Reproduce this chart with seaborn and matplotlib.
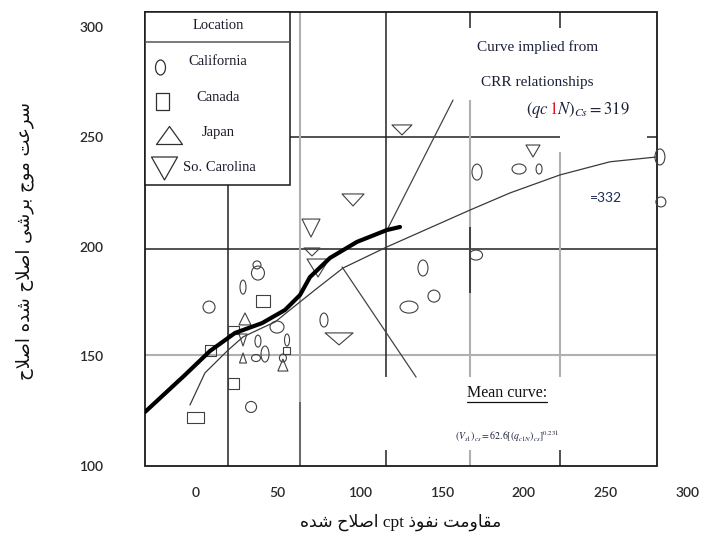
import numpy as np
import pandas as pd
import matplotlib
matplotlib.use("Agg")
import matplotlib.pyplot as plt
import seaborn as sns
from matplotlib.path import Path
from matplotlib.transforms import Affine2D
from matplotlib.patches import Rectangle
from matplotlib.offsetbox import TextArea, HPacker, AnnotationBbox

# ---------------- data ----------------
locations = ["California", "Canada", "Japan", "So. Carolina"]

cal_x = [8.3, 37.5, 38.1, 29.0, 49.7, 38.1, 55.8, 42.4, 36.9, 53.3, 33.9,
         78.3, 138.6, 145.3, 130.1, 171.5, 197.1, 209.3, 282.9, 283.5, 170.9]
cal_y = [172.4, 191.6, 187.9, 181.5, 163.3, 156.9, 157.4, 151.0, 149.2, 149.2, 126.9,
         166.5, 190.2, 177.4, 172.4, 233.9, 235.3, 235.3, 240.8, 220.3, 196.1]
can_x = [-0.2, 8.9, 23.5, 22.9, 41.2, 55.2]
can_y = [121.9, 152.4, 137.4, 162.0, 175.2, 152.8]
jap_x = [30.2, 29.0, 53.3]
jap_y = [167.0, 149.2, 146.0]
sc_x = [125.8, 96.0, 70.4, 71.0, 74.7, 87.5, 205.6, 29.0]
sc_y = [253.1, 221.2, 208.4, 197.5, 190.2, 157.9, 243.5, 157.4]

# curve implied from CRR relationships (thick)
crr_x = [-30.7, -6.3, 8.9, 24.1, 40.6, 54.6, 63.7, 69.8, 82.0, 98.4, 116.6, 124.6]
crr_y = [124.6, 141.5, 152.4, 160.6, 165.1, 171.1, 177.9, 186.1, 194.8, 202.1, 207.5, 208.9]
# mean curve (thin)
mean_x = [-3.3, 5.8, 13.8, 19.9, 29.0, 40.6, 48.5, 57.6, 72.8, 89.9, 116.6,
          167.2, 191.6, 222.0, 252.5, 281.1]
mean_y = [127.8, 142.4, 148.3, 152.8, 158.8, 162.9, 165.6, 171.1, 180.2, 190.2, 199.8,
          216.6, 224.4, 232.6, 238.6, 240.8]
# straight reference lines
ref1_x = [117.3, 156.9]
ref1_y = [208.4, 266.7]
ref2_x = [89.3, 134.4]
ref2_y = [190.7, 140.5]

x_ticks = [0, 50, 100, 150, 200, 250, 300]
y_ticks = [100, 150, 200, 250, 300]

# ---------------- marker styles (pixel width/height of each glyph) ----------------
cal_w = [12, 8, 13, 6, 14, 6, 5, 8, 9, 7, 11, 8, 10, 12, 18, 10, 14, 6, 10, 10, 13]
cal_h = [12, 8, 14, 14, 12, 12, 12, 16, 7, 8, 11, 14, 16, 12, 12, 16, 10, 10, 16, 10, 10]
can_w = [17, 11, 11, 11, 14, 7]
can_h = [11, 11, 11, 8, 12, 7]
jap_w = [12, 7, 10]
jap_h = [12, 10, 12]
sc_w = [20, 22, 18, 16, 22, 28, 14, 8]
sc_h = [10, 12, 18, 8, 18, 12, 12, 12]

# ---------------- Persian text shaping ----------------
FORMS = {
    'ا': ('\uFE8D', '\uFE8E', None, None),
    'ب': ('\uFE8F', '\uFE90', '\uFE91', '\uFE92'),
    'ت': ('\uFE95', '\uFE96', '\uFE97', '\uFE98'),
    'ج': ('\uFE9D', '\uFE9E', '\uFE9F', '\uFEA0'),
    'ح': ('\uFEA1', '\uFEA2', '\uFEA3', '\uFEA4'),
    'د': ('\uFEA9', '\uFEAA', None, None),
    'ذ': ('\uFEAB', '\uFEAC', None, None),
    'ر': ('\uFEAD', '\uFEAE', None, None),
    'س': ('\uFEB1', '\uFEB2', '\uFEB3', '\uFEB4'),
    'ش': ('\uFEB5', '\uFEB6', '\uFEB7', '\uFEB8'),
    'ص': ('\uFEB9', '\uFEBA', '\uFEBB', '\uFEBC'),
    'ع': ('\uFEC9', '\uFECA', '\uFECB', '\uFECC'),
    'ف': ('\uFED1', '\uFED2', '\uFED3', '\uFED4'),
    'ق': ('\uFED5', '\uFED6', '\uFED7', '\uFED8'),
    'ل': ('\uFEDD', '\uFEDE', '\uFEDF', '\uFEE0'),
    'م': ('\uFEE1', '\uFEE2', '\uFEE3', '\uFEE4'),
    'ن': ('\uFEE5', '\uFEE6', '\uFEE7', '\uFEE8'),
    'ه': ('\uFEE9', '\uFEEA', '\uFEEB', '\uFEEC'),
    'و': ('\uFEED', '\uFEEE', None, None),
    'ی': ('\uFEEF', '\uFEF0', '\uFEF3', '\uFEF4'),
}


def shape_word(w):
    out, i, n, prev = [], 0, len(w), False
    while i < n:
        c = w[i]
        if c == 'ل' and i + 1 < n and w[i + 1] == 'ا':
            out.append('\uFEFC' if prev else '\uFEFB')
            prev = False
            i += 2
            continue
        f = FORMS.get(c)
        if f is None:
            out.append(c)
            prev = False
            i += 1
            continue
        jn = f[2] is not None and i + 1 < n and w[i + 1] in FORMS
        if prev and jn:
            g = f[3]
        elif prev:
            g = f[1]
        elif jn:
            g = f[2]
        else:
            g = f[0]
        out.append(g)
        prev = jn
        i += 1
    return ''.join(reversed(out))


def rtl(text):
    words = text.split(' ')
    vis = [shape_word(w) if any(ch in FORMS for ch in w) else w for w in words]
    return ' '.join(reversed(vis))


x_label = "مقاومت نفوذ cpt اصلاح شده"
y_label = "سرعت موج برشی اصلاح شده اصلاح"

# ---------------- marker paths ----------------
def glyph(kind, w, h):
    if kind == "ellipse":
        return Path.unit_circle().transformed(Affine2D().scale(w / 2, h / 2))
    if kind == "rect":
        v = [(-w / 2, -h / 2), (w / 2, -h / 2), (w / 2, h / 2), (-w / 2, h / 2), (0, 0)]
        return Path(v, [1, 2, 2, 2, 79])
    if kind == "up":
        v = [(0, h / 2), (-w / 2, -h / 2), (w / 2, -h / 2), (0, 0)]
        return Path(v, [1, 2, 2, 79])
    v = [(0, -h / 2), (-w / 2, h / 2), (w / 2, h / 2), (0, 0)]
    return Path(v, [1, 2, 2, 79])


kinds = {"California": "ellipse", "Canada": "rect", "Japan": "up", "So. Carolina": "down"}
rows = []
for loc, xs, ys, ws, hs in [("California", cal_x, cal_y, cal_w, cal_h),
                            ("Canada", can_x, can_y, can_w, can_h),
                            ("Japan", jap_x, jap_y, jap_w, jap_h),
                            ("So. Carolina", sc_x, sc_y, sc_w, sc_h)]:
    for x, y, w, h in zip(xs, ys, ws, hs):
        rows.append(dict(Location=loc, cpt=x, vs=y, w=w, h=h))
df = pd.DataFrame(rows)
df["pid"] = [f"p{i:02d}" for i in range(len(df))]
marker_map = {r.pid: glyph(kinds[r.Location], r.w, r.h) for r in df.itertuples()}
size_map = {r.pid: (max(r.w, r.h) * 0.72) ** 2 for r in df.itertuples()}

# ---------------- figure ----------------
sns.set_style("white")
plt.rcParams["font.family"] = ["Liberation Serif", "DejaVu Sans"]
plt.rcParams["mathtext.fontset"] = "stix"

W, H = 710, 534
fig = plt.figure(figsize=(W / 100, H / 100), dpi=100)
ax = fig.add_axes([145 / W, 68 / H, 565 / W, 454 / H])
XPX0, XSC = 195.4, 1.642
YSC = 2.195
ax.set_xlim((145 - XPX0) / XSC, (710 - XPX0) / XSC)
ax.set_ylim(100, 100 + 454 / YSC)


def P(px, py):
    return ((px - XPX0) / XSC, 100 + (466 - py) / YSC)


for s in ax.spines.values():
    s.set_visible(False)
ax.set_xticks(x_ticks)
ax.set_yticks(y_ticks)
ax.set_xticklabels([str(t) for t in x_ticks], family="Lato", fontsize=10,
                   fontweight="semibold", color="#2a2a2a")
ax.set_yticklabels([str(t) for t in y_ticks], family="Lato", fontsize=10,
                   fontweight="semibold", color="#2a2a2a")
ax.tick_params(axis="x", length=0, pad=15)
ax.tick_params(axis="y", length=0, pad=30)
ax.grid(False)

# frame
fx0, fy0 = P(145, 466)
fx1, fy1 = P(657, 12)
ax.add_patch(Rectangle((fx0, fy0), fx1 - fx0, fy1 - fy0, fill=False, ec="#1a1a1a",
                       lw=1.3, clip_on=False, zorder=2))

# internal grid segments (pixel layout of the original figure)
BLK, GRY = "#222222", "#b0b0b0"
segs = [
    ((290, 137), (560, 137), BLK, 1.1), ((647, 137), (657, 137), BLK, 1.1),
    ((145, 249), (657, 249), BLK, 1.1),
    ((145, 355), (657, 355), GRY, 1.5),
    ((228, 185), (228, 466), BLK, 1.1),
    ((300, 12), (300, 466), GRY, 1.5), ((300, 402), (300, 466), "#555555", 1.1),
    ((386, 12), (386, 377), BLK, 1.1), ((386, 450), (386, 466), BLK, 1.1),
    ((470, 12), (470, 28), BLK, 1.1), ((470, 100), (470, 377), GRY, 1.5),
    ((470, 227), (470, 293), BLK, 1.1), ((470, 450), (470, 466), GRY, 1.5),
    ((560, 12), (560, 28), BLK, 1.1), ((560, 152), (560, 377), GRY, 1.5),
    ((560, 450), (560, 466), BLK, 1.1),
]
for a, b, c, lw in segs:
    (x0, y0), (x1, y1) = P(*a), P(*b)
    ax.plot([x0, x1], [y0, y1], color=c, lw=lw, zorder=1, solid_capstyle="butt")

# reference straight lines
sns.lineplot(x=ref1_x, y=ref1_y, color="#444444", lw=0.9, sort=False, estimator=None, ax=ax, zorder=3)
sns.lineplot(x=ref2_x, y=ref2_y, color="#444444", lw=0.9, sort=False, estimator=None, ax=ax, zorder=3)
# mean curve
sns.lineplot(x=mean_x, y=mean_y, color="#3a3a3a", lw=0.9, sort=False, estimator=None, ax=ax, zorder=3)
# CRR curve
sns.lineplot(x=crr_x, y=crr_y, color="black", lw=3.0, sort=False, estimator=None, ax=ax,
             zorder=5, solid_capstyle="round", solid_joinstyle="round")

# data points
sns.scatterplot(data=df, x="cpt", y="vs", style="pid", markers=marker_map,
                size="pid", sizes=size_map, facecolor="none", edgecolor="#404040",
                linewidth=0.8, legend=False, ax=ax, zorder=4, clip_on=False)
ax.set_xlabel("")
ax.set_ylabel("")

# ---------------- legend box ----------------
lx0, ly0 = P(145, 185)
lx1, ly1 = P(290, 12)
ax.add_patch(Rectangle((lx0, ly0), lx1 - lx0, ly1 - ly0, facecolor="white", ec="#1a1a1a",
                       lw=1.1, zorder=6, clip_on=False))
sx0, sy = P(145, 42)
sx1, _ = P(290, 42)
ax.plot([sx0, sx1], [sy, sy], color="#555555", lw=1.1, zorder=7)
ax.text(*P(218, 26), "Location", ha="center", va="center", fontsize=10.5, zorder=7, color="#1a1a2a")
leg_items = [("California", (160, 67), (218, 62), "ellipse", 10, 15),
             ("Canada", (162, 101), (218, 98), "rect", 13, 17),
             ("Japan", (169, 135), (218, 133), "up", 26, 18),
             ("So. Carolina", (164, 168), (219, 168), "down", 26, 23)]
for name, mp, tp, kind, w, h in leg_items:
    mx, my = P(*mp)
    ax.scatter([mx], [my], marker=glyph(kind, w, h), s=(max(w, h) * 0.72) ** 2,
               facecolor="white", edgecolor="#303030", linewidth=0.9, zorder=8)
    ax.text(*P(*tp), name, ha="center", va="center", fontsize=10.5, zorder=8, color="#1a1a2a")

# ---------------- annotations ----------------
NAVY = "#1c2038"
ax.text(*P(538, 47), "Curve implied from", ha="center", va="center", fontsize=11, color=NAVY, zorder=7)
ax.text(*P(537, 83), "CRR relationships", ha="center", va="center", fontsize=11, color=NAVY, zorder=7)
tp = dict(size=12, color=NAVY)
pack = HPacker(children=[TextArea(r"$(qc$", textprops=tp),
                         TextArea(r"$1$", textprops=dict(size=12, color="#e8141e")),
                         TextArea(r"$N)_{Cs} = 319$", textprops=tp)],
               align="baseline", pad=0, sep=0)
ax.add_artist(AnnotationBbox(pack, P(578, 110), frameon=False, box_alignment=(0.5, 0.5), zorder=7))
ax.text(*P(606, 198), "=332", ha="center", va="center", fontsize=10, family="Lato",
        color="#1f2c55", zorder=7)
ax.text(*P(507, 393), "Mean curve:", ha="center", va="center", fontsize=11.5, color="#111111", zorder=7)
ux0, uy = P(467, 402)
ux1, _ = P(547, 402)
ax.plot([ux0, ux1], [uy, uy], color="#111111", lw=0.9, zorder=7)
ax.text(*P(507, 436), r"$(V_{s1})_{cs} = 62.6\left[(q_{c1N})_{cs}\right]^{0.231}$",
        ha="center", va="center", fontsize=7, color=NAVY, zorder=7)

# axis titles (Persian)
fig.text(401 / W, 1 - 522 / H, rtl(x_label), ha="center", va="center", fontsize=12.5,
         family=["Liberation Serif", "DejaVu Sans"], color="#111111")
fig.text(25 / W, 1 - 241 / H, rtl(y_label), ha="center", va="center", fontsize=13,
         rotation=90, family=["DejaVu Sans"], color="#111111")

fig.savefig("out.png", dpi=100, facecolor="white")
